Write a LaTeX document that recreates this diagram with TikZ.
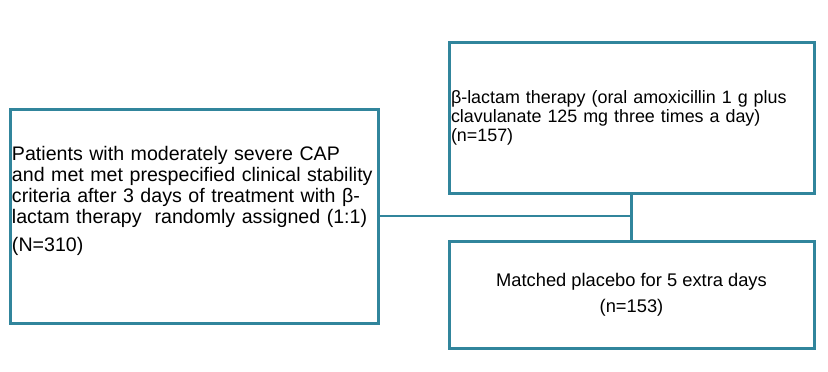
\documentclass[tikz,border=0pt]{standalone}
\usepackage{fontspec}
\setmainfont{Liberation Sans}
\usepackage{tikz}
\usepackage{xcolor}
\usetikzlibrary{positioning, calc}
\definecolor{boxblue}{RGB}{49,133,156}
\tikzset{
  every box/.style={
    draw=boxblue, line width=3pt, rectangle,
    inner xsep=2pt, inner ysep=0pt
  },
  link/.style={draw=boxblue, line width=2.5pt},
}

\begin{document}
\begin{tikzpicture}[x=1pt, y=-1pt]
  \useasboundingbox (0,0) rectangle (828,372);

  \node[every box, minimum width=366pt, minimum height=214pt,
        text width=364pt, align=left,
        font=\fontsize{19.6}{21}\selectfont]
                        (pool)    at (194,216)   {Patients with moderately severe CAP\\
    and met met prespecified clinical stability\\
    criteria after 3 days of treatment with β-\\
    lactam therapy\ \ randomly assigned (1:1)\\[7.7pt]
    (N=310)\\[13pt]\mbox{}};
  \node[every box, minimum width=365pt, minimum height=151pt,
        text width=361pt, align=left,
        font=\fontsize{17.9}{19}\selectfont]
                        (drug)    at (631.5,117.5) {β-lactam therapy (oral amoxicillin 1 g plus\\
    clavulanate 125 mg three times a day)\\
    (n=157)};
  \node[every box, minimum width=365pt, minimum height=107pt,
        align=center,
        font=\fontsize{18.3}{26}\selectfont]
                        (placebo) at (631.5,294.5) {Matched placebo for 5 extra days\\
    (n=153)};

  \draw[link] (pool.east) -- (pool.east -| drug.south);
  \draw[link] (drug.south) -- (placebo.north);
\end{tikzpicture}
\end{document}
